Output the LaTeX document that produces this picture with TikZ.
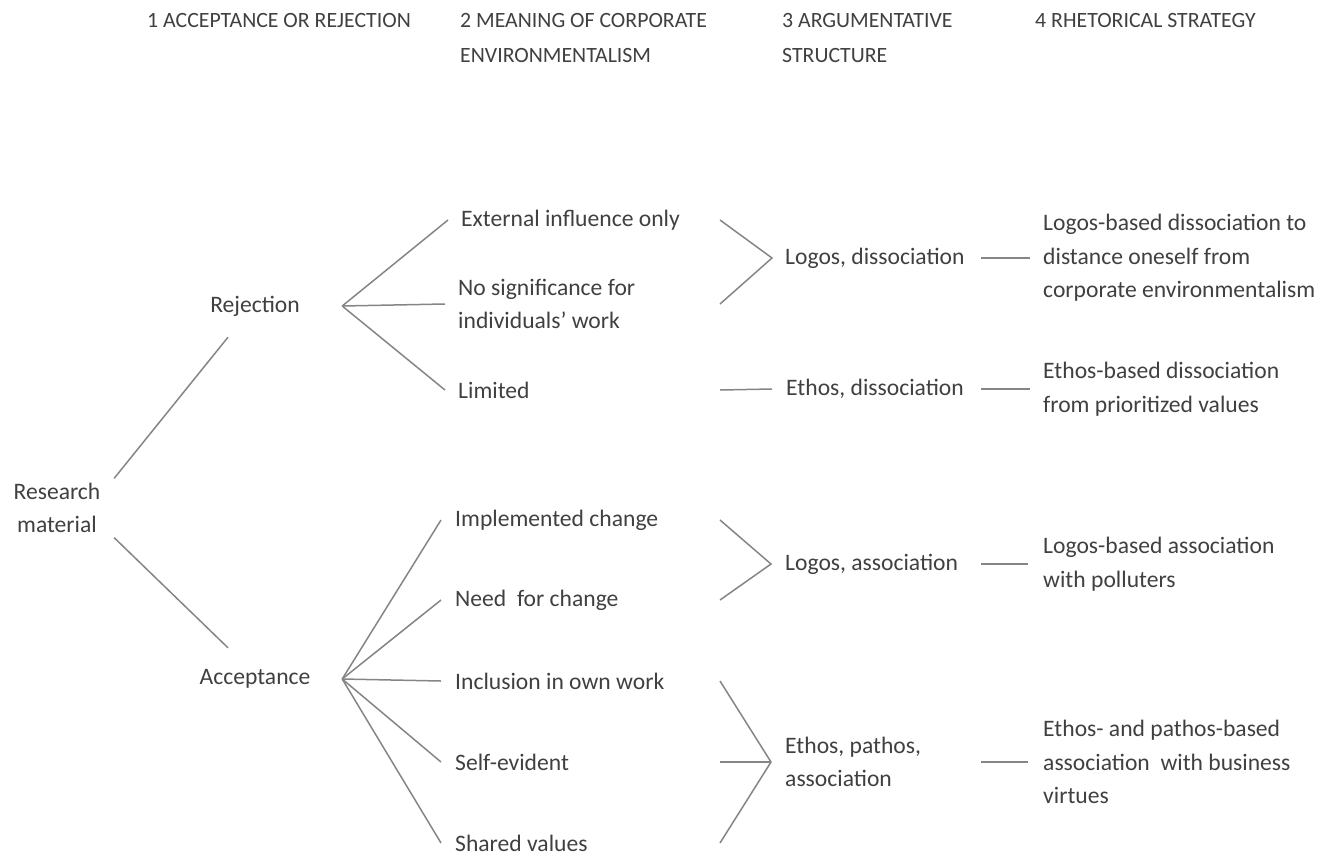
\documentclass[tikz,border=0pt]{standalone}
\usepackage{fontspec}
\setmainfont{Carlito}
\definecolor{txt}{HTML}{404040}
\definecolor{ln}{HTML}{858585}

\begin{document}
\begin{tikzpicture}[x=1pt,y=-1pt,
  every node/.style={text=txt,inner sep=0pt,font=\fontsize{23.6}{33.5}\selectfont},
  head/.style={anchor=north west,align=left,font=\fontsize{21.8}{35}\selectfont},
  lbl/.style={anchor=west,align=left},
  stem/.style={text width=150pt,align=center,minimum height=62pt},
  link/.style={draw=ln,line width=1.5pt}]

\useasboundingbox (0,0) rectangle (1340,857);

% headers
\node[head] (h1) at (147,13) {1 ACCEPTANCE OR REJECTION};
\node[head] (h2) at (460,13) {2 MEANING OF CORPORATE\\ENVIRONMENTALISM};
\node[head] (h3) at (782,13) {3 ARGUMENTATIVE\\STRUCTURE};
\node[head] (h4) at (1035,13) {4 RHETORICAL STRATEGY};

% nodes
\node[text width=114pt,align=center,minimum height=59pt] (res) at (57,508) {Research\\material};
\node[stem] (rej) at (255,306) {Rejection};
\node[stem] (acc) at (255,679) {Acceptance};

\node[lbl] (ext) at (461,220) {External influence only};
\node[lbl] (nosig) at (458,304) {No significance for\\individuals’ work};
\node[lbl] (lim) at (458,390) {Limited};
\node[lbl] (impl) at (455,520) {Implemented change};
\node[lbl] (need) at (455,600) {Need~ for change};
\node[lbl] (incl) at (455,681) {Inclusion in own work};
\node[lbl] (self) at (455,762) {Self-evident};
\node[lbl] (shv) at (455,843) {Shared values};

\node[lbl] (logd) at (785,258) {Logos, dissociation};
\node[lbl] (ethd) at (786,389) {Ethos, dissociation};
\node[lbl] (loga) at (785,564) {Logos, association};
\node[lbl] (etpa) at (785,762) {Ethos, pathos,\\association};

\node[lbl] (rlogd) at (1043,258) {Logos-based dissociation to\\distance oneself from\\corporate environmentalism};
\node[lbl] (rethd) at (1043,389) {Ethos-based dissociation\\from prioritized values};
\node[lbl] (rloga) at (1043,564) {Logos-based association\\with polluters};
\node[lbl] (retpa) at (1043,762) {Ethos- and pathos-based\\association~ with business\\virtues};

\coordinate (rejF) at ([xshift=12pt]rej.east);
\coordinate (accF) at ([xshift=12pt]acc.east);
\coordinate (cx) at (720,0);
\coordinate (rx) at (981,0);

% lines
\draw[link] (res.north east) -- ([xshift=-27pt]rej.south);
\draw[link] (res.south east) -- ([xshift=-27pt]acc.north);

\draw[link] (rejF) -- ([xshift=-13pt]ext.west);
\draw[link] (rejF) -- ([xshift=-13pt]nosig.west);
\draw[link] (rejF) -- ([xshift=-13pt]lim.west);

\draw[link] (accF) -- ([xshift=-14pt]impl.west);
\draw[link] (accF) -- ([xshift=-14pt]need.west);
\draw[link] (accF) -- ([xshift=-14pt]incl.west);
\draw[link] (accF) -- ([xshift=-14pt]self.west);
\draw[link] (accF) -- ([xshift=-14pt]shv.west);

\draw[link] (ext -| cx) -- ([xshift=-13pt]logd.west) -- (nosig -| cx);
\draw[link] (lim -| cx) -- ([xshift=-14pt]ethd.west);
\draw[link] (impl -| cx) -- ([xshift=-14pt]loga.west) -- (need -| cx);
\draw[link] (incl -| cx) -- ([xshift=-14pt]etpa.west) -- (shv -| cx);
\draw[link] (self -| cx) -- ([xshift=-14pt]etpa.west);

\draw[link] (logd -| rx) -- ([xshift=-13pt]rlogd.west);
\draw[link] (ethd -| rx) -- ([xshift=-13pt]rethd.west);
\draw[link] (loga -| rx) -- ([xshift=-15pt]rloga.west);
\draw[link] (etpa -| rx) -- ([xshift=-15pt]retpa.west);
\end{tikzpicture}
\end{document}
